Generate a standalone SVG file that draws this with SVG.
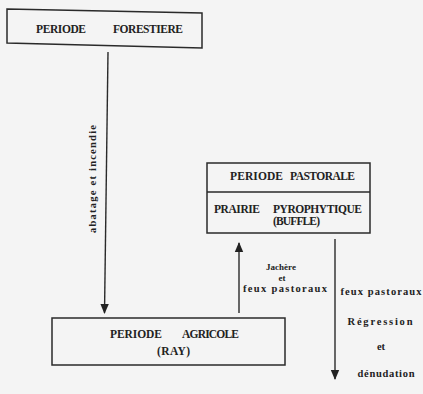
<svg xmlns="http://www.w3.org/2000/svg" width="423" height="394" viewBox="0 0 423 394">
<style>
.bg{fill:#f4f4f4}
.box{fill:none;stroke:#2a2a2a;stroke-width:1.5}
.ln{fill:none;stroke:#2a2a2a;stroke-width:1.4}
.cap{font-family:"Liberation Serif","DejaVu Serif",serif;font-weight:bold;font-size:11.5px;fill:#222}
.lbl{font-family:"Liberation Serif","DejaVu Serif",serif;font-weight:bold;font-size:10.5px;fill:#222}
.sm{font-family:"Liberation Serif","DejaVu Serif",serif;font-weight:bold;font-size:9px;fill:#222}
</style>
<defs>
<marker id="ah" markerWidth="10" markerHeight="10" refX="9" refY="5" orient="auto" markerUnits="userSpaceOnUse">
<path d="M0,0.8 L10,5 L0,9.2 Z" fill="#222"/>
</marker>
</defs>
<rect class="bg" x="0" y="0" width="423" height="394"/>
<g id="connectors">
<line class="ln" x1="108" y1="52" x2="104.5" y2="313" marker-end="url(#ah)"/>
<text class="lbl" transform="translate(96,179) rotate(-90)" text-anchor="middle" textLength="108" lengthAdjust="spacing">abatage et incendie</text>
<line class="ln" x1="239" y1="313" x2="239" y2="243" marker-end="url(#ah)"/>
<text class="sm" x="281" y="270" text-anchor="middle">Jachère</text>
<text class="sm" x="282" y="281" text-anchor="middle">et</text>
<text class="lbl" x="285" y="292" text-anchor="middle" textLength="84" lengthAdjust="spacing">feux pastoraux</text>
<line class="ln" x1="335" y1="239" x2="335" y2="379" marker-end="url(#ah)"/>
<text class="lbl" x="381" y="295" text-anchor="middle" textLength="81" lengthAdjust="spacing">feux pastoraux</text>
<text class="lbl" x="380" y="325" text-anchor="middle" textLength="65" lengthAdjust="spacing">Régression</text>
<text class="lbl" x="381" y="350" text-anchor="middle">et</text>
<text class="lbl" x="386" y="377" text-anchor="middle" textLength="57" lengthAdjust="spacing">dénudation</text>
</g>
<g id="forestiere">
<polygon class="box" points="7,9 202,13 202,48 7,43"/>
<text class="cap" x="36" y="33" textLength="50" lengthAdjust="spacing">PERIODE</text>
<text class="cap" x="113" y="33" textLength="70" lengthAdjust="spacing">FORESTIERE</text>
</g>
<g id="pastorale">
<rect class="box" x="207" y="163" width="163" height="70"/>
<line class="box" x1="207" y1="192" x2="370" y2="192"/>
<text class="cap" x="230" y="180" textLength="53" lengthAdjust="spacing">PERIODE</text>
<text class="cap" x="290" y="180" textLength="65" lengthAdjust="spacing">PASTORALE</text>
<text class="cap" x="214" y="213" textLength="46" lengthAdjust="spacing">PRAIRIE</text>
<text class="cap" x="273" y="213" textLength="89" lengthAdjust="spacing">PYROPHYTIQUE</text>
<text class="cap" x="273" y="225" textLength="47" lengthAdjust="spacing">(BUFFLE)</text>
</g>
<g id="agricole">
<rect class="box" x="52" y="318" width="233" height="47"/>
<text class="cap" x="110" y="338" textLength="52" lengthAdjust="spacing">PERIODE</text>
<text class="cap" x="182" y="338" textLength="57" lengthAdjust="spacing">AGRICOLE</text>
<text class="cap" x="157" y="355" textLength="33" lengthAdjust="spacing">(RAY)</text>
</g>
</svg>
